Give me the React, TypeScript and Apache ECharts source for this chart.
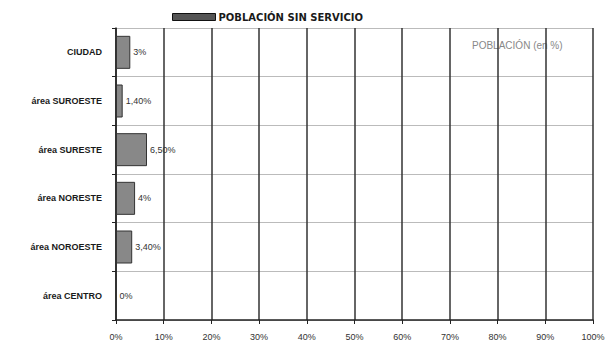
import React, { useEffect, useRef } from "react";
import * as echarts from "echarts";

const categories = ["CIUDAD", "área SUROESTE", "área SURESTE", "área NORESTE", "área NOROESTE", "área CENTRO"];
const values = [3, 1.4, 6.5, 4, 3.4, 0];
const seriesName = "POBLACIÓN SIN SERVICIO";
const axisTitle = "POBLACIÓN (en %)";

const fmt = (v: number) =>
  Number.isInteger(v) ? `${v}%` : `${v.toFixed(2).replace(".", ",")}%`;

export default function App() {
  const ref = useRef<HTMLDivElement>(null);
  useEffect(() => {
    if (!ref.current) return;
    const chart = echarts.init(ref.current, null, { renderer: "svg" });
    chart.setOption({
      animation: false,
      backgroundColor: "#ffffff",
      textStyle: { fontFamily: "Liberation Sans, Arial, sans-serif" },
      legend: {
        top: 7,
        left: 167,
        itemWidth: 43,
        itemHeight: 7,
        itemGap: 3,
        data: [seriesName],
        itemStyle: { color: "#555", borderColor: "#111", borderWidth: 1 },
        textStyle: {
          fontSize: 10,
          fontWeight: "bold",
          color: "#1a1a1a",
          fontFamily: "DejaVu Sans, sans-serif",
          padding: [0, 0, 0, -2],
        },
        icon: "rect",
      },
      grid: { left: 116, right: 16, top: 28, bottom: 30, containLabel: false },
      xAxis: {
        type: "value",
        min: 0,
        max: 100,
        interval: 10,
        axisLine: { show: true, lineStyle: { color: "#222", width: 1.5 } },
        axisTick: { show: true, length: 4, lineStyle: { color: "#222" } },
        axisLabel: { formatter: "{value}%", fontSize: 9, color: "#333", margin: 12 },
        splitLine: { show: true, lineStyle: { color: "#333", width: 1.5 } },
      },
      yAxis: {
        type: "category",
        inverse: true,
        data: categories,
        axisLine: { show: true, lineStyle: { color: "#222", width: 1.5 } },
        axisTick: { show: true, length: 4, lineStyle: { color: "#222" } },
        axisLabel: { fontSize: 9, fontWeight: "bold", color: "#1a1a1a", margin: 14 },
        splitLine: { show: true, lineStyle: { color: "#bbb", width: 1 } },
      },
      graphic: [
        {
          type: "text",
          left: 472,
          top: 40,
          style: { text: axisTitle, fontSize: 10, fill: "#888", fontFamily: "Liberation Sans, Arial, sans-serif" },
        },
      ],
      series: [
        {
          name: seriesName,
          type: "bar",
          data: values,
          barWidth: 33,
          itemStyle: { color: "#888888", borderColor: "#333", borderWidth: 1 },
          label: {
            show: true,
            position: "right",
            distance: 3,
            fontSize: 9,
            color: "#333",
            formatter: (p: any) => fmt(p.value),
          },
        },
      ],
    });
    return () => chart.dispose();
  }, []);
  return <div ref={ref} style={{ width: 609, height: 350, position: "absolute", left: 0, top: 0 }} />;
}
